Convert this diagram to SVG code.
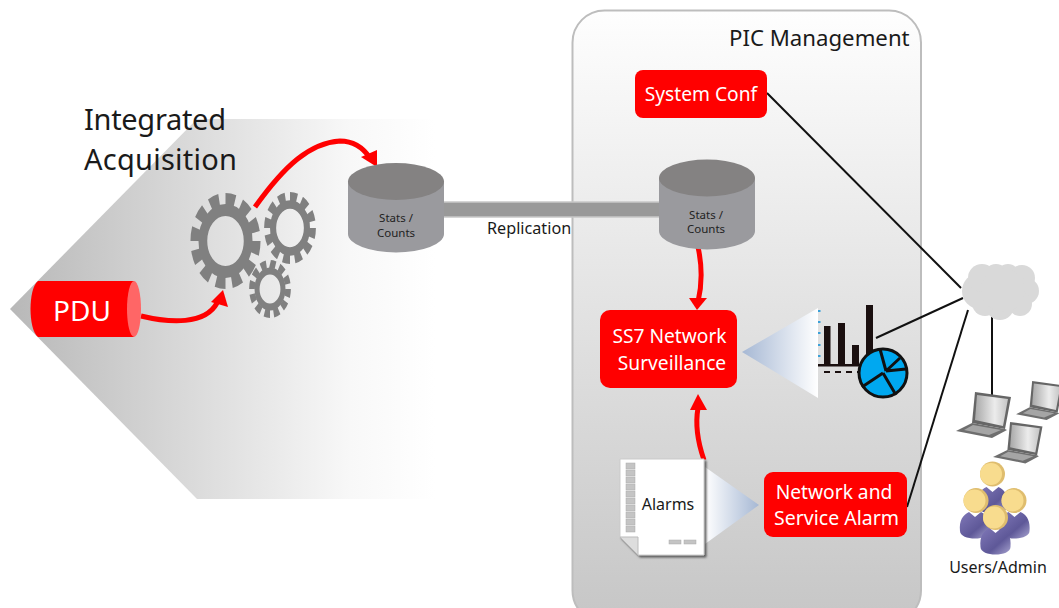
<svg xmlns="http://www.w3.org/2000/svg" xmlns:xlink="http://www.w3.org/1999/xlink" width="1059" height="608" viewBox="0 0 1059 608">
<style>
text{font-family:"Noto Sans","Open Sans","Liberation Sans",sans-serif;fill:#1a1a1a}
.w{fill:#fff;font-size:19.200px;text-anchor:middle}
.s{font-size:11.500px;text-anchor:middle;fill:#222}
.box{fill:#ff0000}
.red{fill:none;stroke:#ff0000;stroke-width:5}
.head{fill:#ff0000}
.ln{stroke:#111;stroke-width:2;fill:none}
.gear{fill:none;stroke:#808080}
.body{fill:#9a9a9e}
.top{fill:#848282}
.dot{fill:#3aa0d8}
.bar{fill:#1a0f0f}
.strip{fill:#c4c4c4;stroke:#aaa;stroke-width:.5}
.cl{fill:#d9d9d9}
.head-u{fill:#f8dc8e}
.shade{fill:#dfbd6e}
.person{fill:url(#pu)}
</style>
<defs>
<linearGradient id="bg" gradientUnits="userSpaceOnUse" x1="10" y1="0" x2="435" y2="0"><stop offset="0" stop-color="#b8b8b8"/><stop offset=".45" stop-color="#dcdcdc"/><stop offset=".8" stop-color="#f8f8f8"/><stop offset="1" stop-color="#fff"/></linearGradient>
<linearGradient id="pan" x1="0" y1="0" x2="0" y2="1"><stop offset="0" stop-color="#fefefe"/><stop offset="1" stop-color="#c6c6c6"/></linearGradient>
<linearGradient id="tri" x1="0" y1="0" x2="1" y2="0"><stop offset="0" stop-color="#a6b8d4"/><stop offset="1" stop-color="#fff"/></linearGradient>
<linearGradient id="tri2" x1="0" y1="0" x2="1" y2="0"><stop offset="0" stop-color="#fff"/><stop offset="1" stop-color="#a6b8d4"/></linearGradient>
<linearGradient id="scr" x1="0" y1="0" x2="1" y2="0"><stop offset="0" stop-color="#a8a8a8"/><stop offset=".6" stop-color="#ececec"/><stop offset="1" stop-color="#c4c4c4"/></linearGradient>
<linearGradient id="pu" x1="0" y1="0" x2="1" y2="1"><stop offset="0" stop-color="#8078b8"/><stop offset=".6" stop-color="#5e5898"/><stop offset="1" stop-color="#a8a4d0"/></linearGradient>
<filter id="sh" x="-10%" y="-10%" width="125%" height="125%"><feDropShadow dx="2" dy="2" stdDeviation="1.200" flood-color="#444" flood-opacity=".85"/></filter>
<g id="laptop">
<polygon points="19,0 55,5 49,37 16,31" fill="#666"/>
<polygon points="21,3 52,7 47,34 19,28" fill="url(#scr)"/>
<polygon points="16,31 49,37 51,38 36,46 0,39" fill="#6e6e6e"/>
<polygon points="17,33 45,38 33,43 8,38" fill="#a5a5a5"/>
</g>
<path id="person" d="M-15 17C-16 6 -12 1 -6 -2L0 3L6 -2C12 1 16 6 15 17C15 27 -15 27 -15 17Z"/>
</defs>

<polygon id="bg-arrow" points="10,309 197,119 435,119 435,499 197,499" fill="url(#bg)"/>
<rect id="panel" x="572.500" y="10.500" width="348.500" height="612" rx="32" fill="url(#pan)" stroke="#bdbdbd" stroke-width="2"/>

<g id="connectors">
<rect x="442.500" y="202" width="220" height="15" fill="#999" stroke="#c8c8c8" stroke-width="1.500"/>
<path class="ln" d="M767 93L961 288"/>
<path class="ln" d="M876 338L963 298"/>
<path class="ln" d="M907 507L968 310"/>
<path class="ln" d="M992 317V395"/>
<path class="red" d="M141 316C170 323 205 325 217 303"/>
<polygon class="head" points="223,290 228,307 211,302"/>
<path class="red" d="M255 207C285 165 310 143 340 141C355 141 364 149 370 158"/>
<polygon class="head" points="377,167 361,157 377,150"/>
<path class="red" d="M698 247C702 265 702 285 698 302"/>
<polygon class="head" points="697,310 689,298 707,298"/>
<path class="red" d="M704 460C697 440 695 425 698 408"/>
<polygon class="head" points="698,394 690,410 707,410"/>
</g>

<g id="pdu">
<path class="box" d="M38 281H134V337H38C28 330 28 288 38 281Z"/>
<ellipse cx="134" cy="309" rx="7" ry="28" fill="#ff6666"/>
<text x="82" y="321" style="fill:#fff;font-size:28px;text-anchor:middle">PDU</text>
</g>

<g id="title"><text x="84" y="130" font-size="29" textLength="142">Integrated</text><text x="84" y="170" font-size="29" textLength="153">Acquisition</text></g>

<g id="gears">
<g transform="translate(225.500,241) scale(.73,1)"><circle class="gear" r="42" stroke-width="12" pathLength="120" stroke-dasharray="6 4"/><circle r="31" fill="#fff" class="gear" stroke-width="12"/></g>
<g transform="translate(290,228) scale(.72,1)"><circle class="gear" r="31" stroke-width="10" pathLength="120" stroke-dasharray="6 4"/><circle r="23.500" fill="#fff" class="gear" stroke-width="8.500"/></g>
<g transform="translate(270,289) scale(.72,1)"><circle class="gear" r="25" stroke-width="8" pathLength="120" stroke-dasharray="6 4"/><circle r="18" fill="#fff" class="gear" stroke-width="7"/></g>
</g>

<g id="db1">
<path class="body" d="M348 181V234A48 18.500 0 0 0 444 234V181Z"/>
<ellipse class="top" cx="396" cy="181.500" rx="48" ry="18.500"/>
<text class="s" x="396" y="222">Stats /</text><text class="s" x="396" y="237">Counts</text>
</g>
<g id="db2">
<path class="body" d="M659 178V231A48 18.500 0 0 0 755 231V178Z"/>
<ellipse class="top" cx="707" cy="178" rx="48" ry="18.500"/>
<text class="s" x="706" y="219">Stats /</text><text class="s" x="706" y="233">Counts</text>
</g>
<text id="replication" x="487" y="234" font-size="16.200">Replication</text>
<text id="pic-title" x="729" y="46" font-size="22.200">PIC Management</text>

<g id="system-conf"><rect class="box" x="635" y="70" width="132" height="48" rx="8"/><text class="w" x="701" y="101">System Conf</text></g>
<g id="ss7"><rect class="box" x="600" y="310" width="137" height="78" rx="10"/><text class="w" x="669.500" y="343">SS7 Network</text><text class="w" x="672" y="370">Surveillance</text></g>
<g id="net-alarm"><rect class="box" x="764" y="472" width="143" height="65" rx="9"/><text class="w" x="834" y="499">Network and</text><text class="w" x="836.500" y="525" style="font-size:19.500px">Service Alarm</text></g>

<polygon id="tri-ss7" points="742,352 818,308 818,398" fill="url(#tri)"/>
<polygon id="tri-alarm" points="705,467 759,505 705,544" fill="url(#tri2)"/>

<g id="chart">
<g class="dot"><rect x="818" y="310" width="2.500" height="2"/><rect x="818" y="321" width="2.500" height="2"/><rect x="818" y="332" width="2.500" height="2"/><rect x="818" y="344" width="2.500" height="2"/><rect x="818" y="355" width="2.500" height="2"/></g>
<rect class="bar" x="824" y="326" width="6.500" height="39"/>
<rect class="bar" x="838" y="323" width="7" height="42"/>
<rect class="bar" x="852" y="345" width="7" height="20"/>
<rect class="bar" x="866" y="305" width="7" height="58"/>
<rect class="bar" x="818" y="364" width="50" height="2.500"/>
<path d="M824 372H860" stroke="#1a0f0f" stroke-width="2" stroke-dasharray="6 5"/>
<circle cx="883" cy="373" r="24" fill="#00a8f0" stroke="#111" stroke-width="3"/>
<path d="M883 373L862 387M883 373L896 395M886 371L880 349M886 371L900 358M886 371L906 369" stroke="#111" stroke-width="3" fill="none"/>
</g>

<g id="alarms">
<path d="M620 459H704V555H638L620 537Z" fill="#fff" stroke="#ccc" stroke-width="1" filter="url(#sh)"/>
<path d="M620 537H638V555Z" fill="#ddd" stroke="#bbb"/>
<g class="strip"><rect x="626" y="463" width="9" height="6"/><rect x="626" y="470" width="9" height="6"/><rect x="626" y="477" width="9" height="6"/><rect x="626" y="484" width="9" height="6"/><rect x="626" y="491" width="9" height="6"/><rect x="626" y="498" width="9" height="6"/><rect x="626" y="505" width="9" height="6"/><rect x="626" y="512" width="9" height="6"/><rect x="626" y="519" width="9" height="6"/><rect x="626" y="526" width="9" height="6"/></g>
<rect class="strip" x="669" y="540" width="12" height="4"/><rect class="strip" x="684" y="540" width="12" height="4"/>
<text x="668" y="510" font-size="16" text-anchor="middle">Alarms</text>
</g>

<g id="cloud" class="cl">
<circle cx="980" cy="291" r="18"/><circle cx="982" cy="278" r="14"/><circle cx="996" cy="277" r="13"/><circle cx="1008" cy="275" r="11"/><circle cx="1022" cy="278" r="13"/><circle cx="1026" cy="291" r="13"/><circle cx="1020" cy="304" r="12"/><circle cx="1000" cy="306" r="14"/><circle cx="985" cy="303" r="13"/><circle cx="1003" cy="290" r="22"/>
</g>

<g id="laptops">
<use xlink:href="#laptop" href="#laptop" transform="translate(956,392)"/>
<use xlink:href="#laptop" href="#laptop" transform="translate(1016,381) scale(.85)"/>
<use xlink:href="#laptop" href="#laptop" transform="translate(993,422) scale(.9)"/>
</g>

<g id="users">
<use class="person" href="#person" xlink:href="#person" x="992.500" y="489"/>
<use class="person" href="#person" xlink:href="#person" x="975" y="514"/>
<use class="person" href="#person" xlink:href="#person" x="1014.500" y="514"/>
<circle class="shade" cx="992.500" cy="474" r="12.500"/><circle class="head-u" cx="991" cy="474" r="11"/>
<circle class="shade" cx="976" cy="500.500" r="12.500"/><circle class="head-u" cx="974.500" cy="500.500" r="11"/>
<circle class="shade" cx="1014" cy="500.500" r="12.500"/><circle class="head-u" cx="1012.500" cy="500.500" r="11"/>
<use class="person" href="#person" xlink:href="#person" x="995.500" y="530"/>
<circle class="shade" cx="995.500" cy="517.500" r="12.500"/><circle class="head-u" cx="994" cy="517.500" r="11"/>
<text x="998" y="573" font-size="16" text-anchor="middle">Users/Admin</text>
</g>
</svg>
